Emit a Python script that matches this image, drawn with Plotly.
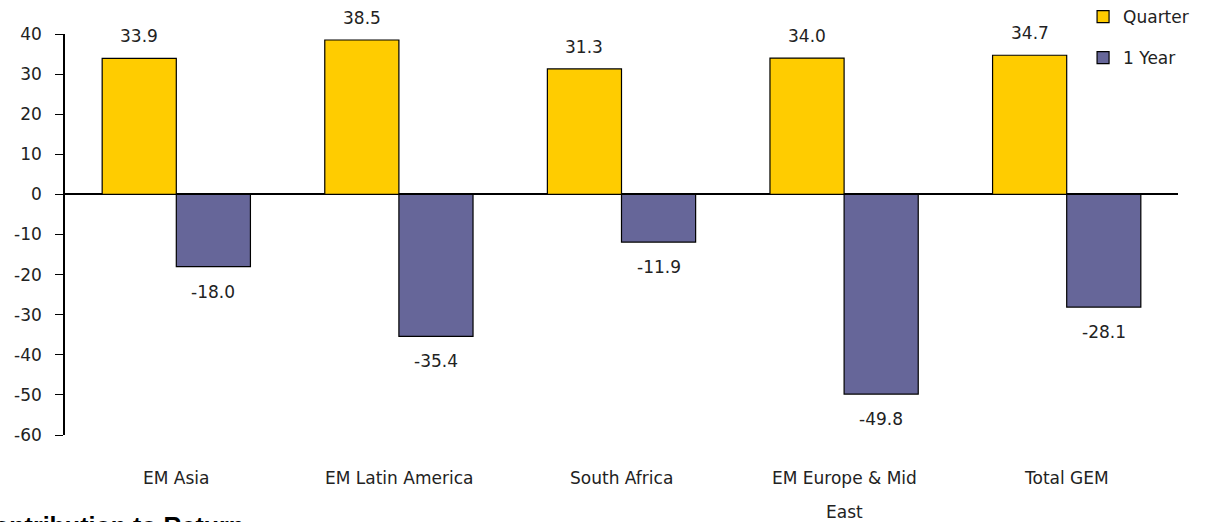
import plotly.graph_objects as go

# Regional returns (%)
categories = ["EM Asia", "EM Latin America", "South Africa", "EM Europe & Mid\nEast", "Total GEM"]
quarter = [33.9, 38.5, 31.3, 34.0, 34.7]
one_year = [-18.0, -35.4, -11.9, -49.8, -28.1]
y_ticks = [40, 30, 20, 10, 0, -10, -20, -30, -40, -50, -60]

FONT = "DejaVu Sans"
YELLOW = "#FFCC00"
PURPLE = "#666699"
BAR_W = 0.333

xpos = list(range(len(categories)))

fig = go.Figure()
fig.add_trace(go.Bar(
    x=xpos, y=quarter, name="Quarter", width=BAR_W, offset=-BAR_W,
    marker=dict(color=YELLOW, line=dict(color="black", width=1.2)),
    legend="legend",
))
fig.add_trace(go.Bar(
    x=xpos, y=one_year, name="1 Year", width=BAR_W, offset=0,
    marker=dict(color=PURPLE, line=dict(color="black", width=1.2)),
    legend="legend2",
))

annotations = []
# value labels
for i, v in enumerate(quarter):
    annotations.append(dict(x=i - BAR_W / 2, y=v, xref="x", yref="y", text=f"{v:.1f}",
                            showarrow=False, yshift=22, font=dict(family=FONT, size=17, color="#222")))
for i, v in enumerate(one_year):
    annotations.append(dict(x=i + BAR_W / 2, y=v, xref="x", yref="y", text=f"{v:.1f}",
                            showarrow=False, yshift=-25, font=dict(family=FONT, size=17, color="#222")))
# category labels
for i, c in enumerate(categories):
    for k, line in enumerate(c.split("\n")):
        annotations.append(dict(x=i, y=-0.107 - k * 0.085, xref="x", yref="paper", text=line,
                                showarrow=False, yanchor="middle",
                                font=dict(family=FONT, size=17, color="#222")))
# section heading running below the chart
annotations.append(dict(x=-0.0818, y=-0.187, xref="paper", yref="paper", text="<b>Contribution to Return</b>",
                        showarrow=False, xanchor="left", yanchor="top",
                        font=dict(family="Liberation Sans", size=25, color="black")))

fig.update_layout(
    width=1208, height=522,
    margin=dict(l=65, r=30, t=34, b=87, autoexpand=False),
    paper_bgcolor="white", plot_bgcolor="white",
    barmode="overlay",
    showlegend=True,
    annotations=annotations,
    legend=dict(x=0.9147, y=1.042, xanchor="left", yanchor="middle",
                font=dict(family=FONT, size=17, color="#222"), bgcolor="rgba(0,0,0,0)",
                itemwidth=30),
    legend2=dict(x=0.9147, y=0.94, xanchor="left", yanchor="middle",
                 font=dict(family=FONT, size=17, color="#222"), bgcolor="rgba(0,0,0,0)",
                 itemwidth=30),
    xaxis=dict(range=[-0.5, 4.5], showticklabels=False, ticks="", showgrid=False,
               zeroline=False, showline=False),
    yaxis=dict(range=[-60, 40], tickvals=y_ticks, ticktext=[str(t) for t in y_ticks],
               ticks="outside", ticklen=8,
               tickcolor="black", showline=True, linecolor="black", linewidth=1.5,
               showgrid=False, zeroline=True, zerolinecolor="black", zerolinewidth=1.5,
               ticklabelstandoff=10,
               tickfont=dict(family=FONT, size=17, color="#222")),
)

fig.write_html("out.html")
